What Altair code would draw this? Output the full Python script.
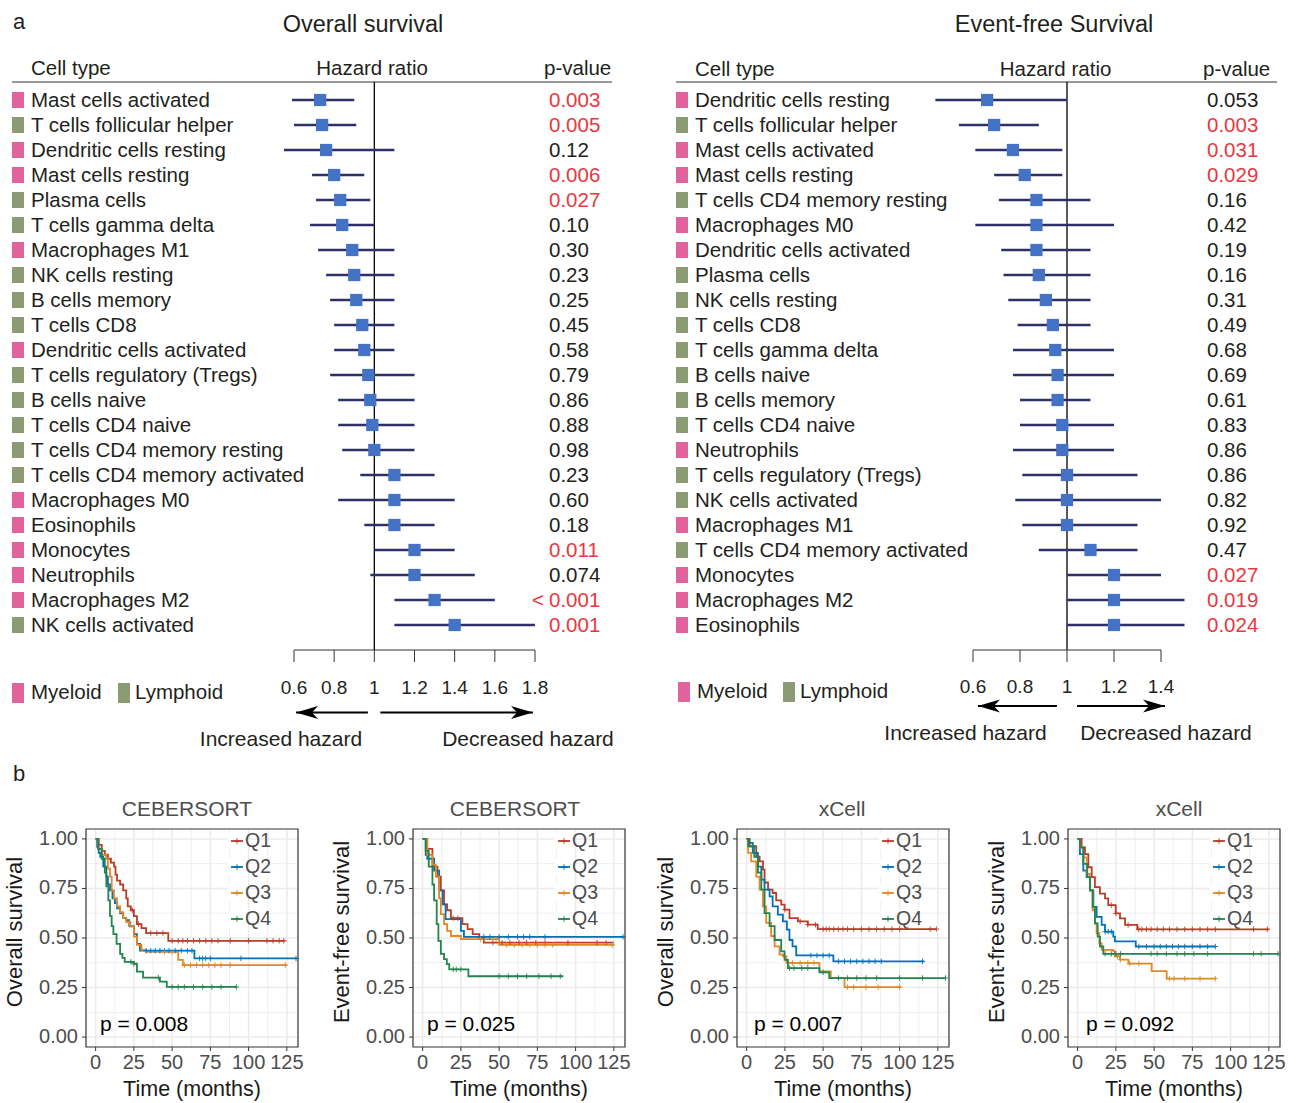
import altair as alt
import pandas as pd

FONT = "Liberation Sans"
TXT = "#231F20"
RED = "#E8393F"
PINK = "#E0649B"
GREEN = "#8C9B73"
BLUE = "#4472C4"
NAVY = "#2E3168"
GRID = "#EBEBEB"
GRAYTXT = "#4D4D4D"
KM_COLORS = ["#BC3C29", "#0072B5", "#E18727", "#20854E"]
QS = ["Q1", "Q2", "Q3", "Q4"]
W, H = 1301, 1103

# ---------------- Forest data: Overall survival ----------------
os_cells = ["Mast cells activated", "T cells follicular helper", "Dendritic cells resting",
            "Mast cells resting", "Plasma cells", "T cells gamma delta", "Macrophages M1",
            "NK cells resting", "B cells memory", "T cells CD8", "Dendritic cells activated",
            "T cells regulatory (Tregs)", "B cells naive", "T cells CD4 naive",
            "T cells CD4 memory resting", "T cells CD4 memory activated", "Macrophages M0",
            "Eosinophils", "Monocytes", "Neutrophils", "Macrophages M2", "NK cells activated"]
os_group = ["Myeloid", "Lymphoid", "Myeloid", "Myeloid", "Lymphoid", "Lymphoid", "Myeloid",
            "Lymphoid", "Lymphoid", "Lymphoid", "Myeloid", "Lymphoid", "Lymphoid", "Lymphoid",
            "Lymphoid", "Lymphoid", "Myeloid", "Myeloid", "Myeloid", "Myeloid", "Myeloid", "Lymphoid"]
os_hr = [0.73, 0.74, 0.76, 0.80, 0.83, 0.84, 0.89, 0.90, 0.91, 0.94, 0.95,
         0.97, 0.98, 0.99, 1.00, 1.10, 1.10, 1.10, 1.20, 1.20, 1.30, 1.40]
os_lo = [0.59, 0.60, 0.55, 0.69, 0.71, 0.68, 0.72, 0.76, 0.78, 0.80, 0.80,
         0.78, 0.82, 0.82, 0.84, 0.93, 0.82, 0.95, 1.00, 0.98, 1.10, 1.10]
os_hi = [0.90, 0.91, 1.10, 0.95, 0.98, 1.00, 1.10, 1.10, 1.10, 1.10, 1.10,
         1.20, 1.20, 1.20, 1.20, 1.30, 1.40, 1.30, 1.40, 1.50, 1.60, 1.80]
os_p = ["0.003", "0.005", "0.12", "0.006", "0.027", "0.10", "0.30", "0.23", "0.25", "0.45",
        "0.58", "0.79", "0.86", "0.88", "0.98", "0.23", "0.60", "0.18", "0.011", "0.074",
        "< 0.001", "0.001"]
os_ticks = [0.6, 0.8, 1.0, 1.2, 1.4, 1.6, 1.8]
os_tick_labels = ["0.6", "0.8", "1", "1.2", "1.4", "1.6", "1.8"]

# ---------------- Forest data: Event-free survival ----------------
efs_cells = ["Dendritic cells resting", "T cells follicular helper", "Mast cells activated",
             "Mast cells resting", "T cells CD4 memory resting", "Macrophages M0",
             "Dendritic cells activated", "Plasma cells", "NK cells resting", "T cells CD8",
             "T cells gamma delta", "B cells naive", "B cells memory", "T cells CD4 naive",
             "Neutrophils", "T cells regulatory (Tregs)", "NK cells activated", "Macrophages M1",
             "T cells CD4 memory activated", "Monocytes", "Macrophages M2", "Eosinophils"]
efs_group = ["Myeloid", "Lymphoid", "Myeloid", "Myeloid", "Lymphoid", "Myeloid", "Myeloid",
             "Lymphoid", "Lymphoid", "Lymphoid", "Lymphoid", "Lymphoid", "Lymphoid", "Lymphoid",
             "Myeloid", "Lymphoid", "Lymphoid", "Myeloid", "Lymphoid", "Myeloid", "Myeloid", "Myeloid"]
efs_hr = [0.66, 0.69, 0.77, 0.82, 0.87, 0.87, 0.87, 0.88, 0.91, 0.94, 0.95,
          0.96, 0.96, 0.98, 0.98, 1.00, 1.00, 1.00, 1.10, 1.20, 1.20, 1.20]
efs_lo = [0.44, 0.54, 0.61, 0.69, 0.71, 0.61, 0.72, 0.73, 0.75, 0.79, 0.77,
          0.77, 0.80, 0.80, 0.77, 0.81, 0.78, 0.81, 0.88, 1.00, 1.00, 1.00]
efs_hi = [1.00, 0.88, 0.98, 0.98, 1.10, 1.20, 1.10, 1.10, 1.10, 1.10, 1.20,
          1.20, 1.10, 1.20, 1.20, 1.30, 1.40, 1.30, 1.30, 1.40, 1.50, 1.50]
efs_p = ["0.053", "0.003", "0.031", "0.029", "0.16", "0.42", "0.19", "0.16", "0.31", "0.49",
         "0.68", "0.69", "0.61", "0.83", "0.86", "0.86", "0.82", "0.92", "0.47", "0.027",
         "0.019", "0.024"]
efs_ticks = [0.6, 0.8, 1.0, 1.2, 1.4]
efs_tick_labels = ["0.6", "0.8", "1", "1.2", "1.4"]

legend_labels = ["Myeloid", "Lymphoid"]
hazard_labels = ["Increased hazard", "Decreased hazard"]

# ---------------- KM data (step points) ----------------
km_ceb_os = {
    "Q1": ([0, 2, 4, 6, 8, 10, 12, 13, 14, 16, 18, 20, 21, 23, 25, 27, 30, 33, 47.5, 124],
           [1, 0.97, 0.94, 0.92, 0.90, 0.88, 0.86, 0.82, 0.79, 0.77, 0.74, 0.70, 0.66, 0.64, 0.61, 0.57, 0.55, 0.525, 0.486, 0.486]),
    "Q2": ([0, 1, 2, 3, 5, 7, 8, 9.4, 11, 12.6, 14, 16, 18, 20, 22, 25, 27, 29, 64.6, 131.5],
           [1, 0.96, 0.93, 0.91, 0.86, 0.81, 0.77, 0.74, 0.70, 0.676, 0.65, 0.625, 0.60, 0.59, 0.56, 0.52, 0.47, 0.436, 0.397, 0.397]),
    "Q3": ([0, 1.7, 4, 7, 8, 9.4, 10.5, 12, 14, 16, 18, 20, 22.5, 25, 27, 30, 33, 54, 57, 125],
           [1, 0.95, 0.92, 0.90, 0.85, 0.81, 0.74, 0.70, 0.66, 0.63, 0.60, 0.58, 0.557, 0.507, 0.465, 0.44, 0.43, 0.39, 0.363, 0.363]),
    "Q4": ([0, 1.7, 4, 6, 7, 8.3, 9.4, 10.5, 11.6, 13.7, 16, 17.5, 19, 25, 27, 31, 42, 46.5, 92],
           [1, 0.95, 0.90, 0.83, 0.76, 0.69, 0.61, 0.56, 0.52, 0.47, 0.42, 0.40, 0.38, 0.37, 0.33, 0.30, 0.28, 0.253, 0.253]),
}
cens_ceb_os = {
    "Q1": [24, 28, 36, 40, 44, 50, 54, 57, 60, 64, 68, 72, 76, 80, 88, 100, 112, 116, 120, 123],
    "Q2": [33, 36, 39, 42, 45, 48, 52, 56, 60, 63, 68, 70, 72, 75, 95, 131],
    "Q3": [22, 45, 50, 58, 62, 66, 70, 74, 78, 82, 88, 124],
    "Q4": [23, 25, 41, 50, 54, 58, 64, 70, 76, 82, 92],
}
km_ceb_efs = {
    "Q1": ([0, 3, 6.4, 9.7, 11.9, 14, 16, 18.5, 26, 29.4, 32.7, 37, 40, 125],
           [1, 0.95, 0.86, 0.81, 0.74, 0.67, 0.64, 0.60, 0.57, 0.545, 0.52, 0.50, 0.477, 0.477]),
    "Q2": ([0, 2, 3, 7.5, 10.8, 13, 15, 25, 27, 131.5],
           [1, 0.92, 0.90, 0.84, 0.74, 0.67, 0.595, 0.536, 0.506, 0.506]),
    "Q3": ([0, 3, 6.4, 8.6, 10.8, 11.9, 14, 16, 18.5, 25, 50, 125],
           [1, 0.92, 0.87, 0.81, 0.70, 0.62, 0.57, 0.536, 0.51, 0.494, 0.465, 0.465]),
    "Q4": ([0, 2, 4, 6.4, 7.5, 9.2, 10.3, 11.9, 14, 15.8, 17.4, 29.9, 92],
           [1, 0.94, 0.86, 0.77, 0.69, 0.57, 0.486, 0.42, 0.393, 0.368, 0.342, 0.307, 0.307]),
}
cens_ceb_efs = {
    "Q1": [20, 23, 46, 52, 57, 63, 68, 74, 80, 95, 114, 120],
    "Q2": [40, 44, 50, 56, 62, 66, 70, 80, 131],
    "Q3": [38, 48, 55, 60, 65, 70, 75, 80, 85, 124],
    "Q4": [20, 22, 25, 50, 56, 62, 68, 76, 84, 90],
}
km_xc_os = {
    "Q1": ([0, 2, 6.3, 8.5, 10.7, 11.7, 14, 17, 19.3, 22.6, 24.8, 28, 33.5, 40, 46.5, 124],
           [1, 0.963, 0.91, 0.887, 0.845, 0.78, 0.744, 0.727, 0.69, 0.668, 0.643, 0.60, 0.584, 0.567, 0.545, 0.545]),
    "Q2": ([0, 1.3, 4, 7.4, 9.6, 11.7, 15, 17, 20.4, 23.7, 26.3, 28, 30, 32.4, 56.7, 116],
           [1, 0.98, 0.93, 0.86, 0.795, 0.744, 0.71, 0.66, 0.618, 0.584, 0.542, 0.49, 0.458, 0.412, 0.382, 0.382]),
    "Q3": ([0, 1, 3, 6.3, 8.5, 10.7, 12.8, 16, 18.3, 21.5, 23.7, 26, 47.6, 55, 64, 101],
           [1, 0.93, 0.887, 0.81, 0.744, 0.66, 0.576, 0.51, 0.458, 0.416, 0.407, 0.374, 0.332, 0.298, 0.252, 0.252]),
    "Q4": ([0, 1, 5, 7.4, 9.6, 11.7, 15, 18.3, 22.6, 24.8, 27, 47.6, 54, 130],
           [1, 0.963, 0.91, 0.83, 0.744, 0.626, 0.56, 0.49, 0.433, 0.39, 0.348, 0.327, 0.298, 0.298]),
}
cens_xc_os = {
    "Q1": [25, 35, 40, 45, 50, 52, 54, 57, 60, 63, 66, 70, 75, 80, 85, 90, 95, 100, 120, 124],
    "Q2": [42, 46, 50, 54, 60, 64, 68, 72, 76, 80, 84, 88, 115],
    "Q3": [30, 35, 40, 44, 66, 70, 78, 86, 100],
    "Q4": [28, 31, 36, 40, 50, 60, 66, 72, 78, 85, 100, 115, 130],
}
km_xc_efs = {
    "Q1": ([0, 2.6, 4.8, 7, 9.2, 11.3, 14.6, 17.9, 20, 24.9, 27.7, 31, 39, 125],
           [1, 0.957, 0.923, 0.857, 0.807, 0.757, 0.724, 0.70, 0.666, 0.624, 0.599, 0.566, 0.544, 0.544]),
    "Q2": ([0, 1.5, 3.7, 5.9, 8, 10.3, 12.4, 15.7, 17.9, 23.3, 24.4, 38, 90],
           [1, 0.923, 0.84, 0.807, 0.74, 0.657, 0.607, 0.566, 0.532, 0.507, 0.483, 0.457, 0.457]),
    "Q3": ([0, 1.5, 3.7, 5.9, 8, 9.8, 11.3, 12.4, 14.2, 15.7, 23.3, 24.4, 27.7, 33.2, 48.4, 58.2, 90],
           [1, 0.957, 0.907, 0.824, 0.74, 0.64, 0.574, 0.524, 0.474, 0.44, 0.433, 0.408, 0.391, 0.371, 0.333, 0.295, 0.295]),
    "Q4": ([0, 1.5, 3.7, 6.3, 8, 9.8, 11.3, 13.1, 14.6, 16.8, 131.3],
           [1, 0.957, 0.874, 0.807, 0.74, 0.657, 0.574, 0.507, 0.457, 0.42, 0.42]),
}
cens_xc_efs = {
    "Q1": [22, 25, 33, 40, 42, 45, 48, 52, 56, 60, 65, 70, 75, 80, 85, 90, 115, 124],
    "Q2": [18, 20, 22, 40, 45, 50, 54, 58, 62, 66, 70, 75, 80, 85, 90],
    "Q3": [26, 28, 34, 40, 60, 63, 70, 80, 90],
    "Q4": [18, 22, 25, 28, 48, 52, 58, 65, 70, 76, 85, 115, 120, 131],
}
km_x_ticks = [0, 25, 50, 75, 100, 125]
km_x_labels = ["0", "25", "50", "75", "100", "125"]
km_y_ticks = [0, 0.25, 0.5, 0.75, 1.0]
km_y_labels = ["0.00", "0.25", "0.50", "0.75", "1.00"]
km_x_minor = [12.5, 37.5, 62.5, 87.5, 112.5]
km_y_minor = [0.125, 0.375, 0.625, 0.875]
km_x_range = [-6.3, 132.3]
km_y_range = [-0.05, 1.05]

ONE = pd.DataFrame({"k": [0]})


# ---------------- helpers ----------------
def xscale(v0, p0, v1, p1):
    ppu = (p1 - p0) / (v1 - v0)
    return alt.Scale(domain=[v0 - p0 / ppu, v0 + (W - p0) / ppu], nice=False, zero=False)


def yscale(v0, p0, v1, p1):
    ppu = (p1 - p0) / (v1 - v0)
    top = v0 - p0 / ppu
    bot = v0 + (H - p0) / ppu
    if ppu < 0:
        return alt.Scale(domain=[bot, top], nice=False, zero=False)
    return alt.Scale(domain=[top, bot], reverse=True, nice=False, zero=False)


def txt(s, x, y, size=20.5, align="left", color=TXT, angle=0):
    return alt.Chart(pd.DataFrame({"t": [s]})).mark_text(
        font=FONT, fontSize=size, align=align, baseline="middle", color=color, angle=angle
    ).encode(text="t:N", x=alt.value(x), y=alt.value(y))


def hrule(x0, x1, y, color="#333333", width=1.0):
    return alt.Chart(ONE).mark_rule(color=color, strokeWidth=width).encode(
        x=alt.value(x0), x2=alt.value(x1), y=alt.value(y))


def forest(cells, groups, hr, lo, hi, pvals, ticks, tick_labels, title, L):
    xs = xscale(ticks[0], L["x_first"], ticks[-1], L["x_last"])
    ys = yscale(0, L["row0_y"], 1, L["row0_y"] + L["row_step"])

    def X(f):
        return alt.X(f, scale=xs, axis=None)

    Y = alt.Y("row:Q", scale=ys, axis=None)
    n = len(cells)
    df = pd.DataFrame({
        "row": list(range(n)), "cell": cells, "hr": hr, "lo": lo, "hi": hi,
        "p_num": [p.replace("< ", "") for p in pvals],
        "p_pre": ["<" if p.startswith("<") else "" for p in pvals],
        "pcol": [RED if float(p.replace("< ", "")) < 0.05 else TXT for p in pvals],
        "gcol": [PINK if g == "Myeloid" else GREEN for g in groups],
    })
    base = alt.Chart(df)
    layers = []
    layers.append(hrule(L["hline_x"][0], L["hline_x"][1], L["hline_y"], width=1.2))
    layers.append(txt(title, L["title_x"], 25, size=23.5, align="center"))
    layers.append(txt("Cell type", L["lab_x"], L["head_y"]))
    layers.append(txt("Hazard ratio", L["hr_x"], L["head_y"], align="center"))
    layers.append(txt("p-value", L["ph_x"], L["head_y"]))
    layers.append(alt.Chart(pd.DataFrame({"x": [1.0]})).mark_rule(color="black", strokeWidth=1.3).encode(
        x=X("x:Q"), y=alt.value(L["hline_y"]), y2=alt.value(L["axis_y"])))
    tdf = pd.DataFrame({"v": ticks, "lab": tick_labels})
    layers.append(alt.Chart(pd.DataFrame({"a": [ticks[0]], "b": [ticks[-1]]})).mark_rule(
        color="#333333", strokeWidth=1).encode(x=X("a:Q"), x2="b:Q", y=alt.value(L["axis_y"])))
    layers.append(alt.Chart(tdf).mark_rule(color="#333333", strokeWidth=1).encode(
        x=X("v:Q"), y=alt.value(L["axis_y"]), y2=alt.value(L["axis_y"] + 12)))
    layers.append(alt.Chart(tdf).mark_text(font=FONT, fontSize=19, color=TXT, baseline="middle").encode(
        x=X("v:Q"), y=alt.value(L["tick_lab_y"]), text="lab:N"))
    layers.append(base.mark_rule(color=NAVY, strokeWidth=2.3).encode(x=X("lo:Q"), x2="hi:Q", y=Y))
    layers.append(base.mark_square(size=150, color=BLUE, opacity=1).encode(x=X("hr:Q"), y=Y))
    layers.append(base.mark_point(shape="M-0.75,-1L0.75,-1L0.75,1L-0.75,1Z", filled=True, size=256,
                                  opacity=1).encode(
        x=alt.value(L["cat_x"]), y=Y, color=alt.Color("gcol:N", scale=None)))
    layers.append(base.mark_text(font=FONT, fontSize=20.5, align="left", baseline="middle", color=TXT,
                                 dy=1).encode(x=alt.value(L["lab_x"]), y=Y, text="cell:N"))
    layers.append(base.mark_text(font=FONT, fontSize=20.5, align="left", baseline="middle", dy=1).encode(
        x=alt.value(L["p_x"]), y=Y, text="p_num:N", color=alt.Color("pcol:N", scale=None)))
    layers.append(base.mark_text(font=FONT, fontSize=20.5, align="right", baseline="middle", dy=1).encode(
        x=alt.value(L["p_x"] - 5), y=Y, text="p_pre:N", color=alt.Color("pcol:N", scale=None)))
    for col, sx, tx, s in zip([PINK, GREEN], L["leg_sq_x"], L["leg_tx_x"], legend_labels):
        layers.append(alt.Chart(pd.DataFrame({"c": [col]})).mark_point(
            shape="M-0.6,-1L0.6,-1L0.6,1L-0.6,1Z", filled=True, size=400, opacity=1).encode(
            x=alt.value(sx), y=alt.value(L["leg_y"]), color=alt.Color("c:N", scale=None)))
        layers.append(txt(s, tx, L["leg_y"]))
    arr = pd.DataFrame({"tail": L["arrow_tail"], "tip": L["arrow_tip"]})
    layers.append(alt.Chart(arr).mark_rule(color="black", strokeWidth=2).encode(
        x=X("tail:Q"), x2="tip:Q", y=alt.value(L["arrow_y"])))
    layers.append(alt.Chart(arr.iloc[[0]]).mark_point(
        shape="M0,0L2,-0.6L1.45,0L2,0.6Z", filled=True, size=484, color="black", opacity=1).encode(
        x=X("tip:Q"), y=alt.value(L["arrow_y"])))
    layers.append(alt.Chart(arr.iloc[[1]]).mark_point(
        shape="M0,0L-2,-0.6L-1.45,0L-2,0.6Z", filled=True, size=484, color="black", opacity=1).encode(
        x=X("tip:Q"), y=alt.value(L["arrow_y"])))
    layers.append(txt(hazard_labels[0], L["haz_x"][0], L["haz_y"], size=21, align="center"))
    layers.append(txt(hazard_labels[1], L["haz_x"][1], L["haz_y"], size=21, align="center"))
    for s, x, y in L.get("letters", []):
        layers.append(txt(s, x, y, size=22))
    return alt.layer(*layers)


def step_at(times, survs, t):
    s = survs[0]
    for ti, si in zip(times, survs):
        if ti <= t:
            s = si
    return s


def km(title, ytitle, curves, cens, ptext, G):
    x0, x1, y0, y1 = G["x0"], G["x1"], G["y0"], G["y1"]
    xs = xscale(km_x_range[0], x0, km_x_range[1], x1)
    ys = yscale(km_y_range[0], y1, km_y_range[1], y0)

    def X(f):
        return alt.X(f, scale=xs, axis=None)

    def Y(f):
        return alt.Y(f, scale=ys, axis=None)

    rows, crow = [], []
    for q, c in zip(QS, KM_COLORS):
        for t, s in zip(*curves[q]):
            rows.append({"grp": q, "col": c, "time": t, "surv": s})
        for t in cens[q]:
            crow.append({"grp": q, "col": c, "time": t, "surv": step_at(*curves[q], t)})
    df = pd.DataFrame(rows)
    cdf = pd.DataFrame(crow)

    layers = []
    layers.append(alt.Chart(pd.DataFrame({"v": km_x_minor})).mark_rule(color=GRID, strokeWidth=0.8).encode(
        x=X("v:Q"), y=alt.value(y0), y2=alt.value(y1)))
    layers.append(alt.Chart(pd.DataFrame({"v": km_y_minor})).mark_rule(color=GRID, strokeWidth=0.8).encode(
        y=Y("v:Q"), x=alt.value(x0), x2=alt.value(x1)))
    xt = pd.DataFrame({"v": km_x_ticks, "lab": km_x_labels})
    yt = pd.DataFrame({"v": km_y_ticks, "lab": km_y_labels})
    layers.append(alt.Chart(xt).mark_rule(color=GRID, strokeWidth=1.5).encode(
        x=X("v:Q"), y=alt.value(y0), y2=alt.value(y1)))
    layers.append(alt.Chart(yt).mark_rule(color=GRID, strokeWidth=1.5).encode(
        y=Y("v:Q"), x=alt.value(x0), x2=alt.value(x1)))
    for i, (q, c) in enumerate(zip(QS, KM_COLORS)):
        yy = y0 + 12 + 26 * i
        layers.append(alt.Chart(ONE).mark_rect(color="white").encode(
            x=alt.value(x1 - 70), x2=alt.value(x1 - 53), y=alt.value(yy - 8.5), y2=alt.value(yy + 8.5)))
        layers.append(hrule(x1 - 67, x1 - 55, yy, color=c, width=1.8))
        layers.append(alt.Chart(ONE).mark_point(shape="M-1,0L1,0M0,-1L0,1", filled=False, size=30,
                                                strokeWidth=1, color=c, opacity=1).encode(
            x=alt.value(x1 - 61), y=alt.value(yy)))
        layers.append(txt(q, x1 - 53, yy, size=19.5, color=GRAYTXT))
    layers.append(alt.Chart(df).mark_line(interpolate="step-after", strokeWidth=1.8).encode(
        x=X("time:Q"), y=Y("surv:Q"), color=alt.Color("col:N", scale=None), detail="grp:N"))
    layers.append(alt.Chart(cdf).mark_point(shape="M-1,0L1,0M0,-1L0,1", filled=False, size=30,
                                            strokeWidth=1, opacity=0.9).encode(
        x=X("time:Q"), y=Y("surv:Q"), color=alt.Color("col:N", scale=None)))
    layers.append(alt.Chart(ONE).mark_rect(fillOpacity=0, stroke="#333333", strokeWidth=1.2).encode(
        x=alt.value(x0), x2=alt.value(x1), y=alt.value(y0), y2=alt.value(y1)))
    layers.append(alt.Chart(xt).mark_rule(color="#333333", strokeWidth=1).encode(
        x=X("v:Q"), y=alt.value(y1), y2=alt.value(y1 + 4)))
    layers.append(alt.Chart(yt).mark_rule(color="#333333", strokeWidth=1).encode(
        y=Y("v:Q"), x=alt.value(x0 - 4), x2=alt.value(x0)))
    layers.append(alt.Chart(xt).mark_text(font=FONT, fontSize=20, color=GRAYTXT, baseline="middle").encode(
        x=X("v:Q"), y=alt.value(y1 + 16), text="lab:N"))
    layers.append(alt.Chart(yt).mark_text(font=FONT, fontSize=20, color=GRAYTXT, baseline="middle",
                                          align="right").encode(
        y=Y("v:Q"), x=alt.value(x0 - 8), text="lab:N"))
    layers.append(txt(title, G["title_x"], 810, size=21, align="center", color=GRAYTXT))
    layers.append(txt("Time (months)", (x0 + x1) / 2, 1090, size=21.5, align="center", color="#1A1A1A"))
    layers.append(txt(ytitle, x0 - 71, 932, size=22, align="center", color="#1A1A1A", angle=270))
    layers.append(txt(ptext, x0 + G["p_dx"], 1025, size=21, color="black"))
    return alt.layer(*layers)


lay_os = dict(x_first=294, x_last=535, row0_y=100, row_step=25, hline_x=(12, 612), hline_y=82,
              head_y=69, title_x=363, lab_x=31, hr_x=372, ph_x=544, cat_x=18, p_x=549,
              axis_y=650, tick_lab_y=688, leg_y=693, leg_sq_x=[18, 124], leg_tx_x=[31, 135],
              arrow_tail=[0.968, 1.03], arrow_tip=[0.61, 1.79], arrow_y=712.5,
              haz_x=[281, 528], haz_y=740, letters=[("a", 13, 22), ("b", 13, 774)])
lay_efs = dict(x_first=973, x_last=1161, row0_y=100, row_step=25, hline_x=(676, 1277), hline_y=82,
               head_y=70, title_x=1054, lab_x=695, hr_x=1055.5, ph_x=1203, cat_x=682, p_x=1207,
               axis_y=650, tick_lab_y=687, leg_y=692, leg_sq_x=[684, 789], leg_tx_x=[697, 800],
               arrow_tail=[0.957, 1.043], arrow_tip=[0.621, 1.417], arrow_y=706,
               haz_x=[965.5, 1166], haz_y=734)

f_os = forest(os_cells, os_group, os_hr, os_lo, os_hi, os_p, os_ticks, os_tick_labels,
              "Overall survival", lay_os)
f_efs = forest(efs_cells, efs_group, efs_hr, efs_lo, efs_hi, efs_p, efs_ticks, efs_tick_labels,
               "Event-free Survival", lay_efs)

geo = [dict(x0=86, x1=298, y0=829, y1=1047, title_x=187, p_dx=14),
       dict(x0=413, x1=625, y0=829, y1=1047, title_x=515, p_dx=14),
       dict(x0=737, x1=949, y0=829, y1=1047, title_x=842, p_dx=17),
       dict(x0=1068, x1=1280, y0=829, y1=1047, title_x=1179, p_dx=18)]

k1 = km("CEBERSORT", "Overall survival", km_ceb_os, cens_ceb_os, "p = 0.008", geo[0])
k2 = km("CEBERSORT", "Event-free survival", km_ceb_efs, cens_ceb_efs, "p = 0.025", geo[1])
k3 = km("xCell", "Overall survival", km_xc_os, cens_xc_os, "p = 0.007", geo[2])
k4 = km("xCell", "Event-free survival", km_xc_efs, cens_xc_efs, "p = 0.092", geo[3])

chart = alt.layer(f_os, f_efs, k1, k2, k3, k4).resolve_scale(
    x="independent", y="independent"
).properties(width=W, height=H, padding=0, background="white").configure(font=FONT).configure_view(
    strokeWidth=0)

chart.save("out.html", embed_options={"renderer": "svg", "actions": False})
